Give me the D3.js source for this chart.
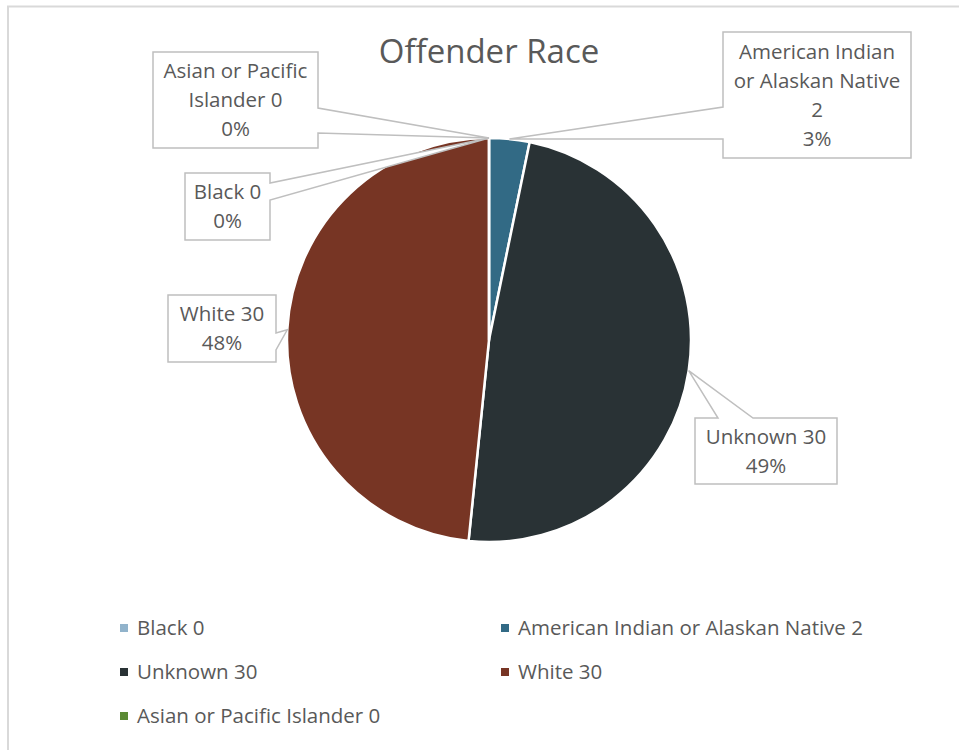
<!DOCTYPE html>
<html>
<head>
<meta charset="utf-8">
<title>Offender Race</title>
<script src="https://d3js.org/d3.v7.min.js"></script>
<style>
body { margin: 0; background: #fff; }
text { font-family: "Open Sans", sans-serif; fill: #595959; }
.box { fill: #fff; stroke: #bfbfbf; stroke-width: 1.5; }
</style>
</head>
<body>
<svg width="959" height="750"></svg>
<script>

// data
var categories = ["Black", "American Indian or Alaskan Native", "Unknown", "White", "Asian or Pacific Islander"];
var counts = [0, 2, 30, 30, 0];
var pctLabels = ["0%", "3%", "49%", "48%", "0%"];
var colors = ["#91b3cb", "#326a85", "#293235", "#773524", "#5b8a34"];
// label text lines as wrapped in the chart (last line is the percent)
var labelLines = [
  ["Black 0"],
  ["American Indian", "or Alaskan Native", "2"],
  ["Unknown 30"],
  ["White 30"],
  ["Asian or Pacific", "Islander 0"]
];

// callout boxes: x, y, w, h, and where the wedge leaves the box
var boxes = [
  {x: 185, y: 173, w: 85, h: 67, side: "right", a: 183, b: 200},
  {x: 723, y: 32, w: 188, h: 126, side: "left", a: 107, b: 139},
  {x: 695, y: 418, w: 142, h: 66, side: "top", a: 718, b: 753},
  {x: 168, y: 295, w: 108, h: 67, side: "right", a: 333, b: 350},
  {x: 153, y: 52, w: 165, h: 96, side: "right", a: 108, b: 133}
];

var svg = d3.select("svg");
var cx = 489, cy = 340, r = 202;

svg.append("path")
    .attr("d", "M8,760 L8,6.5 L970,6.5")
    .attr("fill", "none")
    .attr("stroke", "#d9d9d9")
    .attr("stroke-width", 2);

svg.append("text")
    .attr("x", cx)
    .attr("y", 63)
    .attr("text-anchor", "middle")
    .style("font-size", "33px")
    .text("Offender Race");

var pie = d3.pie().sort(null).value(function(d) { return d; });
var arcs = pie(counts);
var arc = d3.arc().innerRadius(0).outerRadius(r);
var edge = d3.arc().innerRadius(r).outerRadius(r);

var g = svg.append("g").attr("transform", "translate(" + cx + "," + cy + ")");

g.selectAll("path.slice")
  .data(arcs)
  .enter().append("path")
    .attr("class", "slice")
    .attr("d", arc)
    .attr("fill", function(d, i) { return colors[i]; })
    .attr("stroke", "#fff")
    .attr("stroke-width", 2.5)
    .attr("stroke-linejoin", "round");

// callouts
var labels = svg.append("g");
arcs.forEach(function(d, i) {
  var b = boxes[i];
  var p = edge.centroid(d);
  var px = cx + p[0], py = cy + p[1];
  var pts;
  if (b.side == "right") {
    pts = [[b.x, b.y], [b.x + b.w, b.y], [b.x + b.w, b.a], [px, py], [b.x + b.w, b.b], [b.x + b.w, b.y + b.h], [b.x, b.y + b.h]];
  } else if (b.side == "left") {
    pts = [[b.x, b.y], [b.x + b.w, b.y], [b.x + b.w, b.y + b.h], [b.x, b.y + b.h], [b.x, b.b], [px, py], [b.x, b.a]];
  } else {
    pts = [[b.x, b.y], [b.a, b.y], [px, py], [b.b, b.y], [b.x + b.w, b.y], [b.x + b.w, b.y + b.h], [b.x, b.y + b.h]];
  }
  labels.append("path")
      .attr("class", "box")
      .attr("d", "M" + pts.join("L") + "Z");

  var lines = labelLines[i].concat([pctLabels[i]]);
  var lh = 29;
  var top = b.y + b.h / 2 - (lines.length - 1) * lh / 2;
  lines.forEach(function(t, j) {
    labels.append("text")
        .attr("x", b.x + b.w / 2)
        .attr("y", top + j * lh)
        .attr("dy", "0.35em")
        .attr("text-anchor", "middle")
        .style("font-size", "20.5px")
        .text(t);
  });
});

// legend
var legendPos = [[120, 628], [501, 628], [120, 672], [501, 672], [120, 716]];
var legend = svg.append("g");
categories.forEach(function(c, i) {
  var lg = legend.append("g")
      .attr("transform", "translate(" + legendPos[i][0] + "," + legendPos[i][1] + ")");
  lg.append("rect")
      .attr("x", 0).attr("y", -4)
      .attr("width", 8).attr("height", 8)
      .attr("fill", colors[i]);
  lg.append("text")
      .attr("x", 17)
      .attr("dy", "0.35em")
      .style("font-size", "20.5px")
      .text(c + " " + counts[i]);
});

</script>
</body>
</html>
